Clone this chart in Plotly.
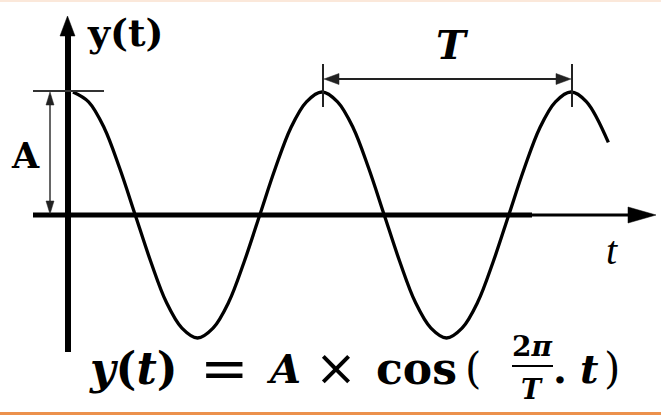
import plotly.graph_objects as go

# cosine wave, t in periods, y in units of the amplitude A
t_values = [0.0, 0.0625, 0.125, 0.1875, 0.25, 0.3125, 0.375, 0.4375,
            0.5, 0.5625, 0.625, 0.6875, 0.75, 0.8125, 0.875, 0.9375,
            1.0, 1.0625, 1.125, 1.1875, 1.25, 1.3125, 1.375, 1.4375,
            1.5, 1.5625, 1.625, 1.6875, 1.75, 1.8125, 1.875, 1.9375,
            2.0, 2.0625, 2.15]
y_values = [1.0, 0.92, 0.71, 0.38, 0.0, -0.38, -0.71, -0.92,
            -1.0, -0.92, -0.71, -0.38, 0.0, 0.38, 0.71, 0.92,
            1.0, 0.92, 0.71, 0.38, 0.0, -0.38, -0.71, -0.92,
            -1.0, -0.92, -0.71, -0.38, 0.0, 0.38, 0.71, 0.92,
            1.0, 0.92, 0.59]

# formula y(t) = A x cos(2pi/T . t), piece by piece
formula_text = ["<b><i>y</i>(<i>t</i>)</b>", "=", "<b><i>A</i></b>", "×",
                "<b>cos</b>", "(", "<b>.</b>", "<b><i>t</i></b>", ")"]
formula_x = [133, 224, 283, 336, 416, 473, 560, 589, 612]
formula_size = [44, 58, 40, 50, 44, 42, 40, 40, 42]

W, H = 661, 415
# pixel position of t=0 / y=0 and pixel size of one period / one amplitude
X0, Y0, PER, AMP = 73, 215, 249, 123
SERIF = "DejaVu Serif"


def px(x):
    return (x - X0) / PER


def py(y):
    return (Y0 - y) / AMP


def line(x0, y0, x1, y1, width, color="black"):
    return dict(type="line", x0=px(x0), y0=py(y0), x1=px(x1), y1=py(y1),
                line=dict(color=color, width=width))


def tri(pts, color="black"):
    path = "M " + " L ".join(f"{px(a)},{py(b)}" for a, b in pts) + " Z"
    return dict(type="path", path=path, fillcolor=color,
                line=dict(color=color, width=0.5))


def label(text, x, y, size, family=SERIF):
    return dict(text=text, x=px(x), y=py(y), showarrow=False, xanchor="center",
                yanchor="middle", font=dict(family=family, size=size, color="black"))


fig = go.Figure()
fig.add_trace(go.Scatter(x=t_values, y=y_values, mode="lines",
                         line=dict(color="black", width=3.3, shape="spline"),
                         hoverinfo="skip"))

shapes = [
    # axes
    line(33, 215, 532, 215, 5),
    line(530, 215, 635, 215, 3),
    tri([(628, 207), (656, 215), (628, 223)]),
    line(68, 33, 68, 352, 6),
    tri([(60, 36), (67.5, 16), (75, 36)]),
    # amplitude marker
    line(33, 91, 104, 91, 2, "#333"),
    line(50, 100, 50, 206, 1.5, "#333"),
    tri([(46, 105), (50, 92), (54, 105)], "#222"),
    tri([(46, 201), (50, 214), (54, 201)], "#222"),
    # period marker
    line(323, 64, 323, 107, 2, "#222"),
    line(572, 64, 572, 107, 2, "#222"),
    line(335, 79, 560, 79, 2.2, "#222"),
    tri([(324, 79), (339, 73.5), (339, 84.5)], "#222"),
    tri([(571, 79), (556, 73.5), (556, 84.5)], "#222"),
    # fraction bar
    line(512, 366, 553, 366, 2.2),
    # page border lines
    dict(type="rect", xref="paper", yref="paper", x0=0, x1=1, y0=1 - 2 / H, y1=1,
         line=dict(width=0), fillcolor="#fbe8da"),
    dict(type="rect", xref="paper", yref="paper", x0=0, x1=1, y0=0, y1=3 / H,
         line=dict(width=0), fillcolor="#ec914c"),
]

annotations = [
    label("<b>y(t)</b>", 125, 32, 38),
    label("<b>A</b>", 25, 155, 35),
    label("<b><i>T</i></b>", 452, 44, 40),
    label("<i>t</i>", 612, 250, 40, "Liberation Serif"),
    label("<b>2<i>π</i></b>", 532, 346, 28),
    label("<b><i>T</i></b>", 532, 389, 27),
]
for txt, x, s in zip(formula_text, formula_x, formula_size):
    annotations.append(label(txt, x, 368, s))

fig.update_layout(
    width=W, height=H,
    margin=dict(l=0, r=0, t=0, b=0),
    paper_bgcolor="white", plot_bgcolor="white",
    showlegend=False,
    shapes=shapes,
    annotations=annotations,
)
fig.update_xaxes(range=[px(0), px(W)], visible=False, fixedrange=True)
fig.update_yaxes(range=[py(H), py(0)], visible=False, fixedrange=True)

fig.write_html("out.html", config=dict(displayModeBar=False),
               post_script="document.body.style.margin='0';")
